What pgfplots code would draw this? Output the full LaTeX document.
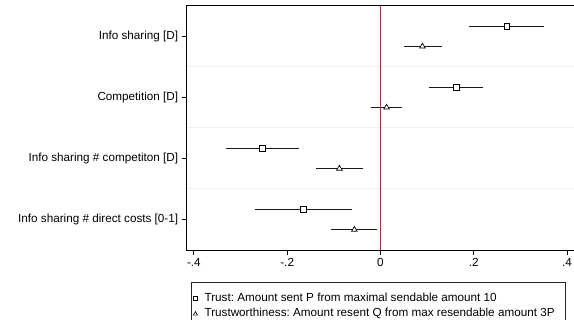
\documentclass[border=0pt]{standalone}
\usepackage{fontspec}
\setmainfont{Liberation Sans}
\usepackage{pgfplots}
\pgfplotsset{compat=1.18}
\usepackage{pgfplotstable}
\usetikzlibrary{calc}
\definecolor{zeroline}{RGB}{220,20,60}
\definecolor{gridc}{RGB}{234,242,243}
\frenchspacing

\pgfplotstableread{
y x lo hi
0.8333 0.271 0.190 0.351
1.8333 0.163 0.105 0.220
2.8333 -0.253 -0.331 -0.175
3.8333 -0.165 -0.270 -0.061
}\trust

\pgfplotstableread{
y x lo hi
1.1667 0.090 0.050 0.132
2.1667 0.013 -0.021 0.046
3.1667 -0.088 -0.138 -0.038
4.1667 -0.056 -0.105 -0.008
}\worth

\begin{document}
\begin{tikzpicture}
\begin{axis}[name=ax, scale only axis, width=388.3pt, height=244.3pt,
  font=\fontsize{11.7}{14}\selectfont,
  xmin=-0.4154, xmax=0.4170, ymin=0.5, ymax=4.5, y dir=reverse,
  xtick={-0.4,-0.2,0,0.2,0.4}, xticklabels={-.4,-.2,0,.2,.4},
  ytick={1,2,3,4},
  yticklabels={Info sharing [D], Competition [D], Info sharing \# competiton [D], Info sharing \# direct costs [0-1]},
  minor ytick={1.5,2.5,3.5}, yminorgrids, minor tick length=0pt,
  minor grid style={gridc, line width=1pt},
  tick align=outside, major tick length=5pt,
  tick style={black, line width=0.8pt},
  xtick pos=lower, ytick pos=left,
  axis line style={black, line width=0.8pt},
  legend image code/.code={\draw[#1] plot coordinates {(0pt,0pt)};},
  legend cell align=left,
  legend style={at={(axis description cs:0.0103,-0.1322)}, anchor=north west,
    draw=black!85, line width=0.8pt, inner xsep=2.3pt, inner ysep=8.2pt,
    column sep=5pt, row sep=0.5pt,
    nodes={inner sep=2pt, text height=8.5pt, text depth=2.5pt},
    font=\fontsize{11.7}{14}\selectfont},
]
\addlegendimage{only marks, mark=square*, mark size=2pt, mark options={fill=white, draw=black, line width=0.6pt}}
\addlegendentry{\makebox[357pt][l]{Trust: Amount sent P from maximal sendable amount 10}}
\addlegendimage{only marks, mark=triangle*, mark size=2.4pt, mark options={fill=white, draw=black, line width=0.6pt}}
\addlegendentry{\makebox[357pt][l]{Trustworthiness: Amount resent Q from max resendable amount 3P}}

\addplot[forget plot, zeroline, line width=1pt] coordinates {(0,0.5) (0,4.5)};

\addplot[forget plot, only marks, mark=square*, mark size=2.8pt,
  mark options={fill=white, draw=black, line width=0.7pt},
  error bars/.cd, x dir=both, x explicit, error mark=none,
  error bar style={black!90, line width=0.8pt}]
  table[x=x, y=y, x error plus expr=\thisrow{hi}-\thisrow{x}, x error minus expr=\thisrow{x}-\thisrow{lo}] {\trust};

\addplot[forget plot, only marks, mark=triangle*, mark size=3.2pt,
  mark options={fill=white, draw=black, line width=0.7pt},
  error bars/.cd, x dir=both, x explicit, error mark=none,
  error bar style={black!90, line width=0.8pt}]
  table[x=x, y=y, x error plus expr=\thisrow{hi}-\thisrow{x}, x error minus expr=\thisrow{x}-\thisrow{lo}] {\worth};
\end{axis}
\pgfresetboundingbox
\useasboundingbox ($(ax.south west)+(-186.7pt,-70pt)$) rectangle ($(ax.north east)+(-1pt,5.7pt)$);
\end{tikzpicture}
\end{document}
